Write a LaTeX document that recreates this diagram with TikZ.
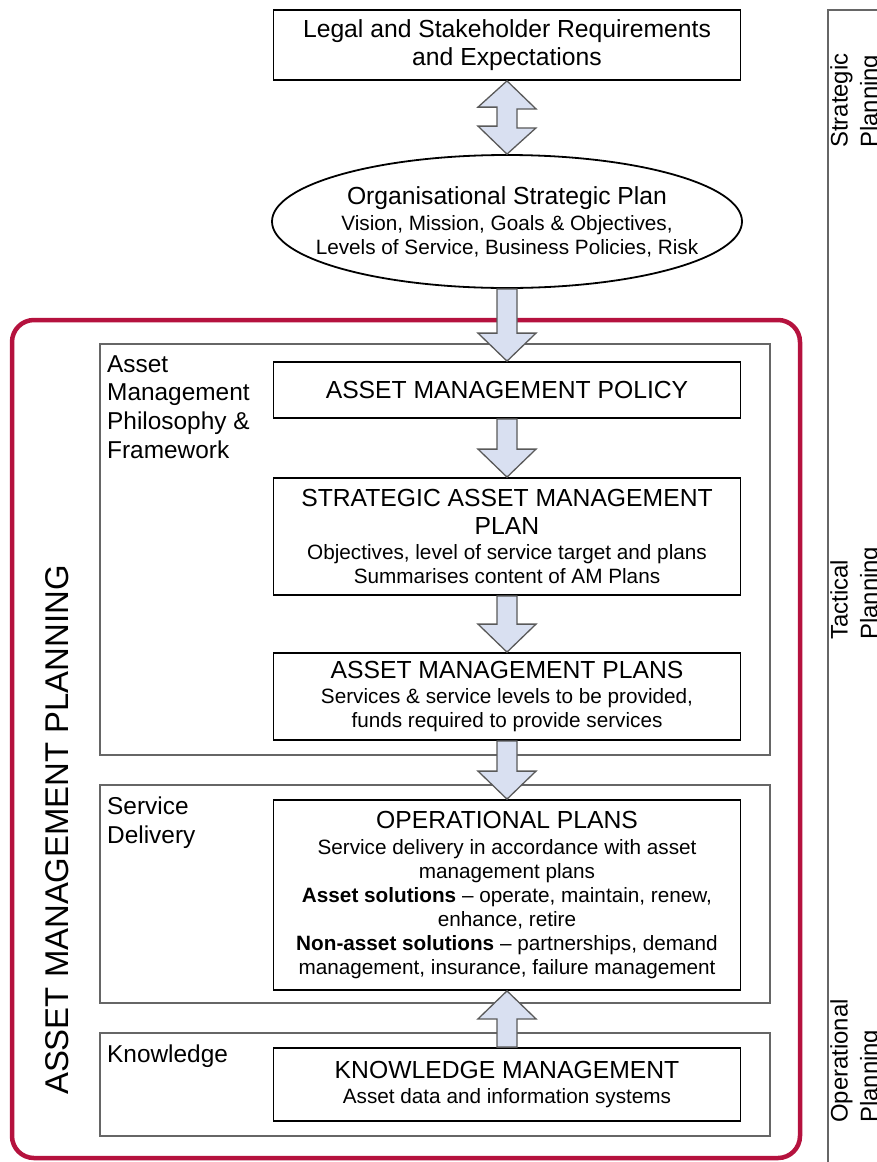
\documentclass[tikz,border=0pt]{standalone}
\usepackage{fontspec}
\setmainfont{Liberation Sans}
\usetikzlibrary{shapes.geometric,calc}

\definecolor{amred}{HTML}{B5123E}
\definecolor{arrowblue}{HTML}{D9E0F1}
\definecolor{framegrey}{HTML}{666666}

\newcommand{\hd}{\fontsize{24.8}{28}\selectfont}
\newcommand{\sm}{\fontsize{20.8}{24}\selectfont}
% block arrow from #1 to tip #2, #3 = 1 pointing down, -1 pointing up
\newcommand{\blockarrow}[3]{%
  \draw[bigarrow] ($(#1)+(-10,0)$) -- ($(#2)+(-10,-28*#3)$) -- ($(#2)+(-29,-28*#3)$) -- (#2)
    -- ($(#2)+(29,-28*#3)$) -- ($(#2)+(10,-28*#3)$) -- ($(#1)+(10,0)$) -- cycle;}

\begin{document}
\begin{tikzpicture}[x=1bp,y=-1bp]
    % `box' is used for the black boxes of the middle column.
    % `group' is used for the grey boxes behind them.
    % `bigarrow' is used for the block arrows between the boxes.
    \tikzstyle{box} = [draw,line width=1.8bp,fill=white,minimum width=467bp,align=center,inner sep=0pt,font=\sm]
    \tikzstyle{group} = [draw=framegrey,line width=1.3bp,minimum width=670bp,inner sep=0pt]
    \tikzstyle{grouplabel} = [anchor=north west,align=left,inner sep=0pt,font=\fontsize{24.5}{29}\selectfont]
    \tikzstyle{sidelabel} = [rotate=90,anchor=north west,align=left,inner sep=0pt,font=\fontsize{24}{30}\selectfont]
    \tikzstyle{bigarrow} = [draw=black!65,line width=1.3bp,fill=arrowblue]
    %
    \useasboundingbox (0,0) rectangle (877,1162);
    % Draw red frame.
    \draw[amred,line width=4.5bp,rounded corners=22bp] (12,320) rectangle (800,1158);
    \node[rotate=90,font=\fontsize{33}{38}\selectfont] (amplabel) at (57,830) {ASSET MANAGEMENT PLANNING};
    % Draw grey boxes.
    \node[group,minimum height=411bp] (philo) at (435,549.5) {};
    \node[group,minimum height=218bp] (service) at (435,894) {};
    \node[group,minimum height=103bp] (know) at (435,1084.5) {};
    \node[grouplabel] (philolabel) at (107,355) {Asset\\Management\\Philosophy \&\\Framework};
    \node[grouplabel] (servicelabel) at (107,797) {Service\\Delivery};
    \node[grouplabel] (knowlabel) at (107,1045) {Knowledge};
    %
    \node[box,minimum height=70bp,font=\hd] (legal) at (507,45) {Legal and Stakeholder Requirements\\and Expectations};
    \node[draw,ellipse,line width=1.8bp,fill=white,minimum width=470bp,minimum height=133bp,inner sep=0pt] (ell) at (507,221.5) {};
    \node[align=center,inner sep=0pt,font=\sm] (elltext) at (ell.center)
      {{\hd Organisational Strategic Plan}\\[2bp]Vision, Mission, Goals \& Objectives,\\Levels of Service, Business Policies, Risk};
    \node[box,minimum height=56bp] (policy) at (507,390) {\hd ASSET MANAGEMENT POLICY};
    \node[box,minimum height=117bp] (samp) at (507,536.5)
      {{\hd STRATEGIC ASSET MANAGEMENT}\\[4bp]{\hd PLAN}\\[2bp]Objectives, level of service target and plans\\Summarises content of AM Plans};
    \node[box,minimum height=87bp] (amp) at (507,696.5)
      {{\hd ASSET MANAGEMENT PLANS}\\[2bp]Services \& service levels to be provided,\\funds required to provide services};
    \node[box,minimum height=190bp] (op) at (507,895)
      {{\hd OPERATIONAL PLANS}\\[2bp]Service delivery in accordance with asset\\management plans\\
       \textbf{Asset solutions} -- operate, maintain, renew,\\enhance, retire\\
       \textbf{Non-asset solutions} -- partnerships, demand\\management, insurance, failure management};
    \node[box,minimum height=73bp] (km) at (507,1084.5)
      {{\hd KNOWLEDGE MANAGEMENT}\\[2bp]Asset data and information systems};
    % Draw planning levels on the right.
    \coordinate (levtop) at (880,10);
    \coordinate (levbend) at (828,10);
    \coordinate (levend) at (828,1165);
    \draw[framegrey,line width=1.5bp] (levtop) -- (levbend) -- (levend);
    \node[sidelabel] (strat) at (830,148) {Strategic\\Planning};
    \node[sidelabel] (tact) at (830,640) {Tactical\\Planning};
    \node[sidelabel] (oper) at (830,1123) {Operational\\Planning};
    % Draw block arrows.
    \draw[bigarrow] (legal.south) -- ++(29,28) -- ++(-19,0) -- ++(0,19) -- ++(19,0) -- (ell.north)
      -- ++(-29,-28) -- ++(19,0) -- ++(0,-19) -- ++(-19,0) -- cycle;
    \blockarrow{ell.south}{policy.north}{1}
    \blockarrow{policy.south}{samp.north}{1}
    \blockarrow{samp.south}{amp.north}{1}
    \blockarrow{amp.south}{op.north}{1}
    \blockarrow{km.north}{op.south}{-1}
\end{tikzpicture}
\end{document}
